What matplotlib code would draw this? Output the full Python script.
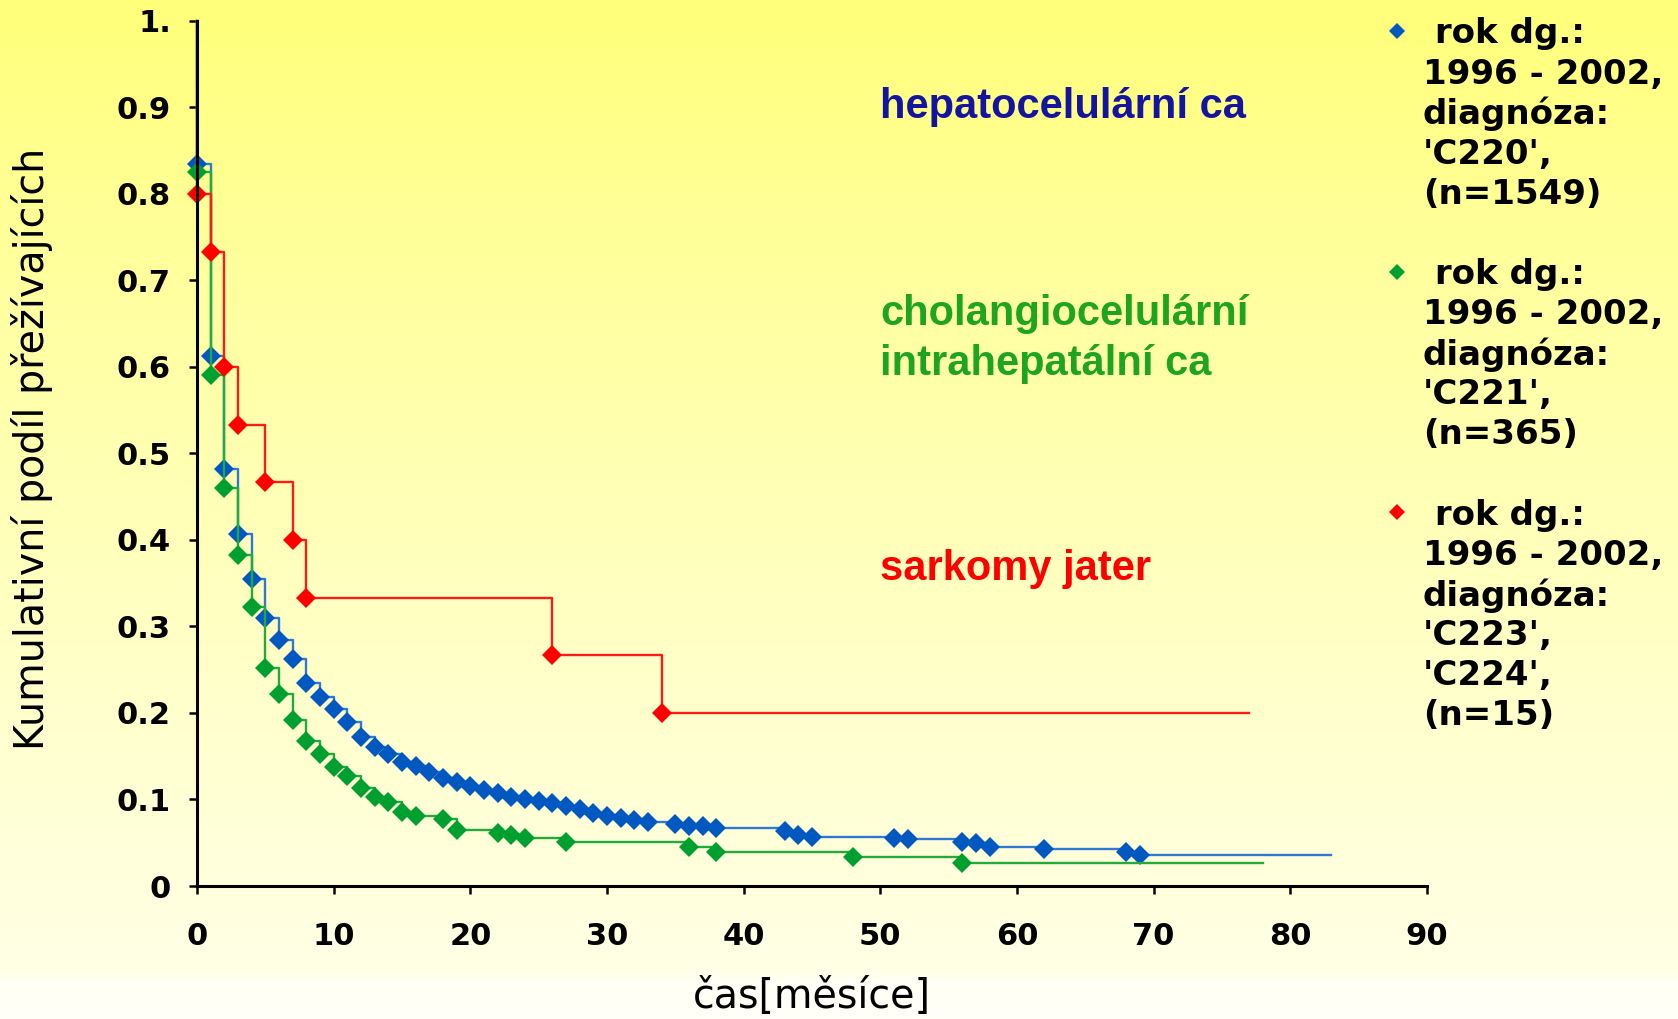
import numpy as np
import matplotlib
matplotlib.use("Agg")
import matplotlib.pyplot as plt
from matplotlib.lines import Line2D

# hepatocelulární ca, C220 (n=1549)
hcc_months = [0, 1, 2, 3, 4, 5, 6, 7, 8, 9, 10, 11, 12, 13, 14, 15, 16, 17, 18, 19,
              20, 21, 22, 23, 24, 25, 26, 27, 28, 29, 30, 31, 32, 33, 35, 36, 37, 38,
              43, 44, 45, 51, 52, 56, 57, 58, 62, 68, 69]
hcc_surv = [0.834, 0.613, 0.482, 0.407, 0.355, 0.310, 0.284, 0.262, 0.234, 0.218,
            0.205, 0.189, 0.172, 0.161, 0.152, 0.143, 0.139, 0.132, 0.125, 0.120,
            0.116, 0.111, 0.107, 0.103, 0.101, 0.098, 0.096, 0.093, 0.089, 0.084,
            0.081, 0.078, 0.076, 0.074, 0.0715, 0.0698, 0.069, 0.0667,
            0.0636, 0.059, 0.057, 0.056, 0.054, 0.0513, 0.0494, 0.0455, 0.0428, 0.039, 0.0356]
hcc_end = 83

# cholangiocelulární intrahepatální ca, C221 (n=365)
cca_months = [0, 1, 2, 3, 4, 5, 6, 7, 8, 9, 10, 11, 12, 13, 14, 15, 16, 18, 19,
              22, 23, 24, 27, 36, 38, 48, 56]
cca_surv = [0.825, 0.590, 0.460, 0.383, 0.322, 0.2515, 0.2215, 0.192, 0.167, 0.153,
            0.137, 0.1275, 0.113, 0.103, 0.0975, 0.085, 0.081, 0.0775, 0.065,
            0.061, 0.059, 0.055, 0.051, 0.045, 0.039, 0.033, 0.027]
cca_end = 78

# sarkomy jater, C223 + C224 (n=15)
sar_months = [0, 1, 2, 3, 5, 7, 8, 26, 34]
sar_surv = [0.80, 0.733, 0.60, 0.533, 0.467, 0.40, 0.333, 0.267, 0.20]
sar_end = 77

x_ticks = list(range(0, 91, 10))
y_ticks = [0, 0.1, 0.2, 0.3, 0.4, 0.5, 0.6, 0.7, 0.8, 0.9, 1.0]
y_ticklabels = ["0", "0.1", "0.2", "0.3", "0.4", "0.5", "0.6", "0.7", "0.8", "0.9", "1."]

legend_lines = [" rok dg.:", "1996 - 2002,", "diagnóza:", "'C220',", "(n=1549)", "",
                " rok dg.:", "1996 - 2002,", "diagnóza:", "'C221',", "(n=365)", "",
                " rok dg.:", "1996 - 2002,", "diagnóza:", "'C223',", "'C224',", "(n=15)"]

series = [
    (hcc_months, hcc_surv, hcc_end, "#2f78d4", "#0058c0"),
    (cca_months, cca_surv, cca_end, "#22aa3a", "#00a030"),
    (sar_months, sar_surv, sar_end, "#ff1a1a", "#ff0000"),
]

W, H = 1678, 1019
fig = plt.figure(figsize=(W / 100, H / 100), dpi=100)
fig.patch.set_facecolor("white")

# yellow gradient background (top -> bottom)
stop_pos = [0.0, 0.25, 0.5, 0.75, 0.955, 0.962, 1.0]
stop_rgb = np.array([[255, 255, 122], [255, 255, 156], [255, 255, 184],
                     [255, 255, 210], [255, 255, 230], [255, 255, 245], [255, 255, 248]]) / 255.0
yy = np.linspace(0, 1, 600)
grad = np.stack([np.interp(yy, stop_pos, stop_rgb[:, k]) for k in range(3)], axis=1)
bg = fig.add_axes([0, 0, 1, 1], zorder=-5)
bg.imshow(grad[:, None, :], aspect="auto", extent=[0, 1, 0, 1], interpolation="bilinear")
bg.axis("off")

ax = fig.add_axes([197 / W, 1 - 886 / H, 1230 / W, 865.4 / H])
ax.set_facecolor("none")

for months, surv, end, lc, mc in series:
    xs = [0] + months + [end]
    ys = [1.0] + surv + [surv[-1]]
    ax.plot(xs, ys, drawstyle="steps-post", color=lc, lw=1.7, clip_on=False)
    ax.plot(months, surv, ls="none", marker="D", ms=10.5, color=mc, mew=0, clip_on=False)

ax.set_xlim(0, 90)
ax.set_ylim(0, 1)
for s in ["top", "right"]:
    ax.spines[s].set_visible(False)
for s in ["left", "bottom"]:
    ax.spines[s].set_linewidth(2.2)
    ax.spines[s].set_color("black")

ax.set_xticks(x_ticks)
ax.set_yticks(y_ticks)
ax.set_yticklabels(y_ticklabels)
ax.tick_params(axis="both", direction="out", length=5.8, width=1.8, colors="black")
ax.tick_params(axis="y", pad=13)
ax.tick_params(axis="x", pad=20)
for lab in ax.get_xticklabels() + ax.get_yticklabels():
    lab.set_fontweight("bold")
    lab.set_fontsize(22)
    lab.set_family("DejaVu Sans")

ax.set_xlabel("čas[měsíce]", fontsize=28.5, va="center", ha="center")
ax.xaxis.set_label_coords(0.5, -0.128)
ax.set_ylabel("Kumulativní podíl přežívajících", fontsize=28.5, va="center", ha="center")
ax.yaxis.set_label_coords(-0.134, 0.505)

# annotations in the plot
ann_font = dict(family=["Liberation Sans", "DejaVu Sans"], fontweight="bold", fontsize=30,
                ha="left", va="center")
fig.text(880 / W, 1 - 107 / H, "hepatocelulární ca", color="#1414a0", **ann_font)
fig.text(880 / W, 1 - 314 / H, "cholangiocelulární", color="#1ea41e", **ann_font)
fig.text(880 / W, 1 - 364 / H, "intrahepatální ca", color="#1ea41e", **ann_font)
fig.text(880 / W, 1 - 569 / H, "sarkomy jater", color="#ff0000", **ann_font)

# legend on the right
for i, line in enumerate(legend_lines):
    if line:
        fig.text(1423 / W, 1 - (34 + i * 40.1) / H, line, fontsize=24.5, fontweight="bold",
                 family="DejaVu Sans", ha="left", va="center", color="black")
for idx, (_, _, _, _, mc) in zip([0, 6, 12], series):
    fig.add_artist(Line2D([1396.6 / W], [1 - (31 + idx * 40.1) / H], transform=fig.transFigure,
                          marker="D", ms=8.5, color=mc, mew=0, ls="none"))

fig.savefig("out.png", dpi=100)
